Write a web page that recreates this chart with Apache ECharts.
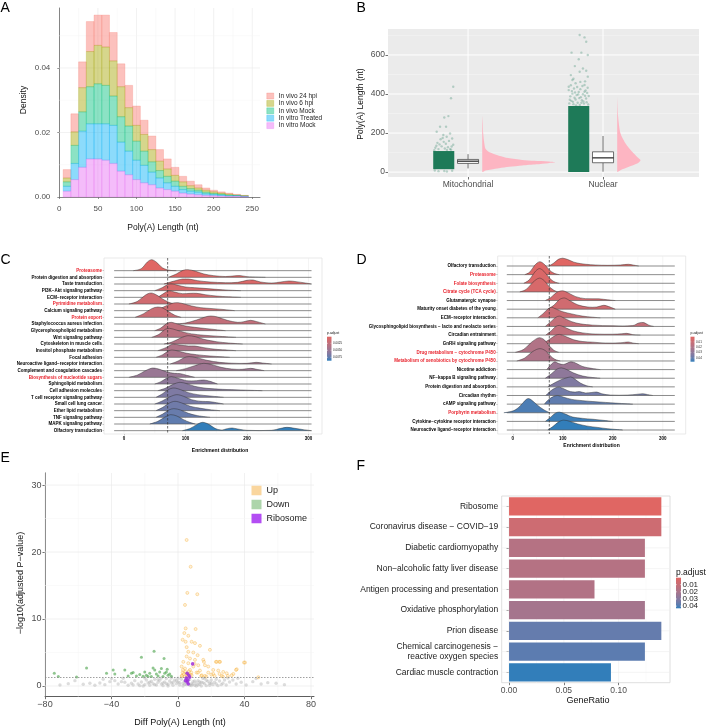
<!DOCTYPE html>
<html><head><meta charset="utf-8">
<script src="https://cdn.jsdelivr.net/npm/echarts@6/dist/echarts.min.js"></script>
<style>html,body{margin:0;padding:0;background:#fff}#c{width:709px;height:728px}</style>
</head><body><div id="c"></div><script>
// ---------------- DATA ----------------
// Panel A : stacked histogram (bin left edges, width 10)
const aBinLeft = [5,15,25,35,45,55,65,75,85,95,105,115,125,135,145,155,165,175,185,195,205,215,225,235];
const aBinWidth = 10;
const aNames = ['In vivo 24 hpi','In vivo 6 hpi','In vivo Mock','In vitro Treated','In vitro Mock'];
const aInVitroMock    = [0.0018,0.0054,0.0092,0.0118,0.0118,0.0114,0.0104,0.0080,0.0069,0.0054,0.0044,0.0038,0.0028,0.0023,0.0018,0.0012,0.0009,0.0007,0.0005,0.0004,0.0003,0.0002,0.0002,0.0001];
const aInVitroTreated = [0.0015,0.0050,0.0112,0.0109,0.0109,0.0113,0.0118,0.0090,0.0073,0.0060,0.0054,0.0039,0.0031,0.0021,0.0015,0.0011,0.0009,0.0008,0.0005,0.0004,0.0003,0.0002,0.0002,0.0001];
const aInVivoMock     = [0.0014,0.0056,0.0060,0.0115,0.0124,0.0119,0.0091,0.0079,0.0078,0.0059,0.0044,0.0032,0.0023,0.0020,0.0016,0.0010,0.0008,0.0006,0.0005,0.0003,0.0003,0.0002,0.0001,0.0001];
const aInVivo6        = [0.0012,0.0042,0.0075,0.0109,0.0119,0.0119,0.0109,0.0093,0.0057,0.0049,0.0052,0.0038,0.0029,0.0023,0.0018,0.0014,0.0009,0.0007,0.0006,0.0005,0.0003,0.0003,0.0001,0.0001];
const aInVivo24       = [0.0026,0.0056,0.0080,0.0093,0.0094,0.0099,0.0088,0.0071,0.0069,0.0060,0.0044,0.0042,0.0036,0.0031,0.0025,0.0017,0.0014,0.0010,0.0007,0.0005,0.0004,0.0003,0.0002,0.0001];
const aXTicks = [0,50,100,150,200,250];
const aYTicks = [0,0.02,0.04];

// Panel B : raincloud
const bCategories = ['Mitochondrial','Nuclear'];
const bYTicks = [0,200,400,600];
const bMitoCore = [15,108];
const bNucCore = [0,338];
const bMitoBox = [19,44.6,56,65,92];      // min q1 median q3 max
const bNucBox = [2,48,73,104,185];
const bMitoViolin = [[0,0],[5,0.015],[8,0.024],[14,0.067],[20,0.124],[27,0.2],[34,0.296],[40,0.4],[46,0.489],[50,0.541],[54,0.489],[58,0.385],[62,0.296],[72,0.193],[84,0.124],[100,0.059],[120,0.024],[150,0.015],[200,0.007],[250,0.004],[290,0]];
const bNucViolin = [[0,0],[10,0.024],[27,0.087],[44,0.148],[61,0.173],[78,0.148],[104,0.111],[147,0.062],[199,0.024],[283,0.007],[386,0]];
const bMitoPts = [[0.9,437],[0.69,378],[0.44,287],[0.05,280],[0.22,232],[-0.35,232],[-0.67,207],[-0.04,190],[0.28,181],[0.6,198],[-0.8,125],[-0.5,118],[-0.2,132],[0.1,121],[0.4,128],[0.7,115],[0.9,140],[-0.9,112],[-0.6,150],[0.2,145],[0.5,160],[-0.3,168],[0.8,172],[-0.7,135],[0.0,155],[0.6,118],[-0.4,142],[0.3,113],[-0.1,175],[0.75,131],[-0.5,5],[0.3,3],[0.8,7],[-0.85,8],[0.05,6]];
const bNucPts = [[0.09,702],[0.55,690],[0.71,668],[-0.68,612],[0.25,612],[0.86,600],[0.0,578],[-0.37,543],[0.4,531],[-0.75,497],[0.09,514],[0.71,519],[-0.6,472],[0.86,489],[-0.95,437],[-0.3,455],[0.55,446],
 [-0.9,352],[-0.7,365],[-0.5,348],[-0.3,372],[-0.1,355],[0.1,344],[0.3,368],[0.5,351],[0.7,377],[0.9,346],[-0.8,388],[-0.6,402],[-0.4,381],[-0.2,395],[0.0,410],[0.2,384],[0.4,399],[0.6,391],[0.8,405],[-0.95,420],[-0.45,428],[0.15,425],[0.65,418],[0.35,441],[-0.15,436],[-0.75,445],[0.85,432],[-0.55,360],[0.45,362],[-0.25,342],[0.05,379],[0.95,390],[-0.85,371],[0.25,355],[-0.05,398],[0.55,412],[-0.65,415],[0.75,358],[-0.35,408],[0.15,462],[-0.5,478],[0.6,465]];

// Panel C : ridgeline
const cTerms = ['Proteasome','Protein digestion and absorption','Taste transduction','PI3K−Akt signaling pathway','ECM−receptor interaction','Pyrimidine metabolism','Calcium signaling pathway','Protein export','Staphylococcus aureus infection','Glycerophospholipid metabolism','Wnt signaling pathway','Cytoskeleton in muscle cells','Inositol phosphate metabolism','Focal adhesion','Neuroactive ligand−receptor interaction','Complement and coagulation cascades','Biosynthesis of nucleotide sugars','Sphingolipid metabolism','Cell adhesion molecules','T cell receptor signaling pathway','Small cell lung cancer','Ether lipid metabolism','TNF signaling pathway','MAPK signaling pathway','Olfactory transduction'];
const cHighlight = [1,0,0,0,0,1,0,1,0,0,0,0,0,0,0,0,1,0,0,0,0,0,0,0,0];
const cPadj = [0.00014,0.0004,0.0006,0.0009,0.0011,0.0014,0.0016,0.0019,0.0024,0.0027,0.003,0.0034,0.0037,0.004,0.0044,0.0047,0.005,0.0056,0.006,0.0064,0.0067,0.007,0.0073,0.0076,0.0087];
const cRidges = [
 [[15,0],[28,0.3],[38,1.3],[45,1.65],[53,1.25],[63,0.4],[75,0.05],[85,0]],
 [[72,0],[85,0.5],[96,1.05],[104,1.15],[115,0.95],[130,0.5],[146,0.25],[165,0.12],[180,0.22],[190,0.25],[200,0.1],[230,0]],
 [[65,0],[80,0.4],[95,0.75],[105,0.75],[120,0.5],[140,0.3],[165,0.2],[185,0.25],[200,0.55],[210,0.6],[222,0.3],[240,0.15],[255,0.3],[268,0.45],[280,0.35],[295,0.15],[305,0]],
 [[50,0],[62,0.45],[72,0.95],[78,1.0],[88,0.8],[100,0.55],[115,0.45],[130,0.35],[150,0.2],[170,0.08],[190,0]],
 [[55,0],[65,0.6],[73,1.0],[82,0.8],[95,0.55],[108,0.6],[118,0.6],[132,0.4],[150,0.2],[170,0.08],[190,0]],
 [[8,0],[22,0.4],[35,1.35],[44,1.65],[53,1.35],[62,0.8],[72,0.3],[82,0]],
 [[40,0],[55,0.2],[68,0.7],[80,1.15],[88,1.2],[98,1.0],[110,0.7],[125,0.45],[145,0.3],[165,0.15],[180,0]],
 [[18,0],[32,0.55],[45,1.3],[55,1.55],[63,1.4],[72,0.9],[82,0.35],[93,0]],
 [[85,0],[100,0.15],[118,0.6],[132,1.05],[141,1.2],[152,1.05],[168,0.55],[185,0.25],[195,0.35],[206,0.55],[216,0.35],[230,0]],
 [[50,0],[60,0.4],[70,1.1],[77,1.25],[87,1.0],[100,0.7],[115,0.5],[135,0.3],[150,0.15],[165,0]],
 [[45,0],[57,0.45],[67,1.2],[74,1.35],[85,1.1],[100,0.7],[120,0.4],[140,0.25],[160,0.12],[182,0]],
 [[65,0],[78,0.3],[92,0.9],[104,1.25],[116,1.1],[130,0.7],[150,0.35],[170,0.15],[193,0]],
 [[55,0],[68,0.45],[80,1.0],[90,0.85],[105,0.7],[115,0.7],[130,0.45],[150,0.2],[170,0.08],[182,0]],
 [[52,0],[63,0.4],[72,0.95],[78,1.1],[88,0.95],[100,0.65],[118,0.4],[140,0.2],[160,0.08],[172,0]],
 [[75,0],[88,0.45],[98,0.95],[106,1.1],[118,0.95],[135,0.55],[155,0.25],[175,0.12],[200,0.1],[215,0.25],[225,0.15],[240,0]],
 [[85,0],[100,0.3],[115,0.75],[130,1.1],[143,0.9],[158,0.5],[175,0.25],[192,0.2],[206,0.35],[216,0.2],[228,0]],
 [[8,0],[22,0.35],[35,1.0],[47,1.4],[58,1.2],[70,0.8],[82,0.6],[92,0.55],[102,0.3],[115,0]],
 [[50,0],[60,0.35],[70,0.9],[77,1.1],[88,0.85],[102,0.5],[118,0.5],[130,0.6],[140,0.4],[152,0]],
 [[55,0],[68,0.4],[80,0.95],[91,1.25],[102,1.05],[115,0.65],[135,0.35],[160,0.2],[190,0.1],[225,0]],
 [[52,0],[62,0.5],[72,1.15],[81,1.4],[92,1.15],[105,0.7],[120,0.4],[140,0.2],[162,0]],
 [[50,0],[62,0.45],[74,1.05],[86,1.4],[97,1.15],[110,0.65],[125,0.4],[140,0.35],[162,0]],
 [[52,0],[63,0.5],[74,1.15],[83,1.4],[94,1.15],[108,0.65],[125,0.35],[140,0.15],[156,0]],
 [[52,0],[63,0.5],[73,1.1],[81,1.3],[92,1.1],[105,0.6],[120,0.25],[140,0]],
 [[42,0],[55,0.4],[66,1.0],[76,1.4],[86,1.2],[97,0.65],[107,0.25],[116,0]],
 [[95,0],[108,0.35],[118,0.9],[128,1.25],[138,0.95],[148,0.35],[158,0.1],[168,0.3],[176,0.4],[185,0.25],[200,0.05],[240,0.05],[255,0.35],[265,0.5],[278,0.35],[292,0.15],[305,0]]
];
const cBaseRange = [-16,305];
const cCutoff = 71;
const cXTicks = [0,100,200,300];
const cLegendTicks = [0.0025,0.0050,0.0075];

// Panel D : ridgeline
const dTerms = ['Olfactory transduction','Proteasome','Folate biosynthesis','Citrate cycle (TCA cycle)','Glutamatergic synapse','Maturity onset diabetes of the young','ECM−receptor interaction','Glycosphingolipid biosynthesis − lacto and neolacto series','Circadian entrainment','GnRH signaling pathway','Drug metabolism − cytochrome P450','Metabolism of xenobiotics by cytochrome P450','Nicotine addiction','NF−kappa B signaling pathway','Protein digestion and absorption','Circadian rhythm','cAMP signaling pathway','Porphyrin metabolism','Cytokine−cytokine receptor interaction','Neuroactive ligand−receptor interaction'];
const dHighlight = [0,1,1,1,0,0,0,0,0,0,1,1,0,0,0,0,0,1,0,0];
const dPadj = [0.0003,0.002,0.003,0.004,0.006,0.007,0.010,0.012,0.013,0.015,0.019,0.020,0.026,0.030,0.034,0.037,0.041,0.044,0.046,0.047];
const dRidges = [
 [[72,0],[82,0.35],[92,0.8],[100,0.9],[110,0.75],[122,0.45],[135,0.28],[146,0.2],[165,0.12],[190,0.08],[215,0.12],[231,0.2],[242,0.1],[252,0]],
 [[24,0],[34,0.3],[44,1.1],[54,1.5],[63,1.2],[73,0.55],[83,0.15],[93,0]],
 [[22,0],[33,0.4],[44,1.3],[53,1.7],[62,1.4],[72,0.7],[82,0.2],[93,0]],
 [[14,0],[27,0.3],[40,1.1],[53,1.6],[63,1.3],[72,0.65],[82,0.2],[90,0]],
 [[65,0],[76,0.35],[88,0.95],[100,1.12],[112,0.85],[126,0.45],[145,0.22],[172,0.2],[190,0.08],[205,0]],
 [[70,0],[82,0.45],[93,1.1],[103,1.3],[115,0.95],[130,0.5],[150,0.25],[168,0.25],[182,0.45],[192,0.3],[205,0]],
 [[50,0],[60,0.45],[70,1.0],[77,1.22],[87,1.0],[100,0.7],[118,0.45],[139,0.2],[160,0.07],[175,0]],
 [[65,0],[76,0.55],[86,1.05],[93,1.2],[103,0.95],[118,0.55],[135,0.3],[160,0.15],[200,0.08],[240,0.1],[252,0.4],[262,0.45],[272,0.15],[282,0]],
 [[66,0],[77,0.5],[86,1.0],[93,1.12],[104,0.9],[120,0.5],[140,0.25],[165,0.12],[200,0.1],[218,0.15],[228,0.2],[240,0.05],[255,0]],
 [[60,0],[72,0.45],[85,0.95],[93,1.08],[105,0.85],[122,0.45],[140,0.25],[160,0.18],[185,0.08],[215,0.1],[231,0.2],[240,0.08],[252,0]],
 [[5,0],[22,0.35],[38,1.2],[53,1.7],[63,1.45],[73,0.75],[82,0.25],[92,0]],
 [[8,0],[24,0.35],[40,1.1],[54,1.43],[65,1.2],[75,0.6],[84,0.2],[95,0]],
 [[68,0],[76,0.55],[84,0.9],[92,0.7],[102,0.6],[116,0.9],[126,0.75],[140,0.35],[160,0.12],[175,0]],
 [[65,0],[76,0.45],[88,1.05],[97,1.2],[108,1.0],[122,0.6],[140,0.25],[160,0.08],[175,0]],
 [[70,0],[80,0.35],[95,0.8],[108,1.05],[116,1.15],[124,0.9],[135,0.45],[148,0.12],[160,0]],
 [[66,0],[76,0.55],[86,0.9],[93,0.97],[103,0.75],[115,0.45],[125,0.4],[133,0.45],[145,0.3],[158,0.35],[168,0.4],[178,0.2],[195,0.05],[230,0.05],[250,0.15],[260,0.2],[270,0.1],[280,0]],
 [[63,0],[72,0.55],[82,0.9],[90,1.0],[102,0.8],[118,0.55],[140,0.4],[160,0.3],[185,0.2],[205,0.12],[230,0.03],[240,0]],
 [[-18,0],[2,0.25],[15,0.8],[25,1.45],[31,1.65],[38,1.45],[50,0.85],[62,0.35],[74,0]],
 [[65,0],[75,0.45],[85,0.95],[93,1.08],[105,0.85],[120,0.5],[140,0.35],[160,0.25],[185,0.1],[200,0]],
 [[70,0],[80,0.4],[92,0.95],[102,1.15],[114,1.0],[130,0.7],[150,0.45],[170,0.3],[190,0.15],[210,0.05],[220,0]]
];
const dBaseRange = [-12,324];
const dCutoff = 73;
const dXTicks = [0,100,200,300];
const dLegendTicks = [0.01,0.02,0.03,0.04];

// Panel E : volcano
const eXTicks = [-80,-40,0,40,80];
const eYTicks = [0,10,20,30];
const eThreshold = 1.3;
const eNs = [[-24,0.3],[-22,0.6],[-20,0.2],[-19,0.9],[-18,0.45],[-17,0.1],[-16,0.7],[-15,0.35],[-14,1.0],[-13,0.15],[-12,0.55],[-11,0.85],[-10,0.3],[-9,0.05],[-8,0.6],[-7,1.1],[-6,0.25],[-5,0.75],[-4,0.45],[-3,0.1],[-2,0.9],[-1,0.35],[0,0.6],[1,0.15],[2,1.0],[3,0.4],[4,0.7],[5,0.2],[6,0.5],[7,0.95],[8,0.3],[9,0.65],[10,0.1],[11,0.45],[12,0.8],[13,0.25],[14,0.55],[15,1.1],[16,0.35],[17,0.05],[18,0.7],[19,0.4],[20,0.9],[21,0.2],[22,0.55],[23,0.3],[25,0.75],[27,0.4],[29,0.15],[31,0.6],
 [-26,0.8],[-28,0.4],[-30,0.1],[-32,0.55],[-34,0.65],[-36,0.3],[-38,0.8],[-41,0.65],[-44,0.2],[-47,0.45],[-50,0.1],[-53,0.4],[-57,0.25],[-62,0.8],[-66,0.35],[-71,0.15],
 [33,0.9],[35,0.3],[38,0.55],[41,0.15],[45,0.65],[47,1.1],[50,0.3],[54,0.5],[59,0.4],[64,0.2],
 [-21,0.0],[-14,0.2],[-9,0.45],[-6,0.0],[-3,0.55],[-1,0.8],[1,0.5],[3,0.0],[4,0.25],[6,0.85],[8,0.05],[9,0.3],[11,0.0],[12,0.15],[13,0.6],[15,0.5],[17,0.85],[19,0.1],[24,0.05],[-12,0.95],[-17,0.55],[-23,0.05],[-7,0.35],[0,1.15],[7,0.15],[10,0.75],[14,0.0],[20,0.45],[26,0.2],[-27,0.15],[-4,1.2],[5,1.2],[16,1.2],[-10,1.2],[-20,1.2],[23,1.0],[28,0.9],[30,1.2],[36,1.15],[-33,1.15],[-40,1.1],[-45,1.0]];
const eDown = [[-74.4,1.9],[-72,1.4],[-61,1.35],[-55,2.7],[-43,1.9],[-39,2.4],[-38,1.8],[-32,2.4],[-28,1.9],[-27,2.0],[-25,1.5],[-23,1.7],[-22,4.3],[-21,1.45],[-20,2.1],[-19,1.6],[-18,1.4],[-17,1.9],[-16,1.4],[-15,2.7],[-14.4,5.2],[-14,2.4],[-13,1.8],[-12,1.5],[-11,2.1],[-10,2.6],[-9,1.4],[-8.4,4.1],[-8,1.9],[-7,2.1],[-6.5,2.5],[-6,1.6],[-5,1.8],[-4,1.45],[-30,1.5]];
const eUp = [[5.2,21.8],[7.6,17.8],[5.6,13.9],[11.6,13.7],[4.2,12.1],[4.6,8.6],[10.6,8.5],[3.8,7.9],[6.2,7.5],[2.8,6.9],[4.6,6.6],[8.2,6.6],[10.2,6.4],[13.2,6.0],[19.2,5.4],[5.2,5.8],[6.2,5.1],[9.2,5.0],[11.8,4.6],[5.2,4.4],[7.2,4.1],[15.2,3.9],[15.6,3.6],[22.8,3.6],[24.8,3.6],[40.3,3.5],[35.3,2.5],[33.3,1.8],[48.3,1.3],
 [3.2,3.6],[6.2,3.4],[2.2,2.9],[4.2,2.6],[10.2,3.9],[16.2,3.1],[18.2,2.9],[21.2,2.4],[24.2,2.3],[27.2,2.1],[29.3,1.9],[32.3,1.6],[23.3,3.6],[25.3,3.6],[39.7,3.5],[34.9,2.4],[21.2,1.8],[18.2,2.0],[13.2,2.3],[11.2,2.0],[8.2,1.6],[5.2,1.8],[2.8,2.0],[2.2,1.5],[7.2,2.4],[9.2,2.9],[12.2,3.1],[14.3,1.6],[16.2,1.5],[26.3,1.5],
 [10,3.3],[12,2.0],[14,1.5],[17,1.4],[20,1.7],[22,1.5],[27,1.4],[30,1.5],[25,1.8],[2.5,1.5],[3.5,1.8],[4.5,2.1],[5.5,1.5],[6.5,2.2],[7.5,1.7],[3,2.4],[8,2.0],[4,1.4],[6,1.7]];
const eRibosome = [[8.8,3.3],[5.5,1.9],[6.5,1.6],[5,1.2],[6,0.9],[5.5,0.6],[7,1.3],[4.5,0.8],[6.2,0.3]];

// Panel F : bar chart
const fTerms = ['Ribosome','Coronavirus disease − COVID−19','Diabetic cardiomyopathy','Non−alcoholic fatty liver disease','Antigen processing and presentation','Oxidative phosphorylation','Prion disease','Chemical carcinogenesis −\nreactive oxygen species','Cardiac muscle contraction'];
const fGeneRatio = [0.139,0.139,0.124,0.124,0.078,0.124,0.139,0.124,0.093];
const fPadj = [0.0003,0.0077,0.016,0.016,0.017,0.021,0.0366,0.038,0.043];
const fXTicks = [0,0.05,0.10];
const fLegendTicks = [0.01,0.02,0.03,0.04];

// ---------------- HELPERS ----------------
const FONT = "'Liberation Sans', Arial, Helvetica, sans-serif";
const LOW = '#e06663', HIGH = '#327eba';
function hex(h){return [parseInt(h.slice(1,3),16),parseInt(h.slice(3,5),16),parseInt(h.slice(5,7),16)];}
function s2l(c){c/=255;return c<=0.04045?c/12.92:Math.pow((c+0.055)/1.055,2.4);}
function l2s(c){const v=c<=0.0031308?12.92*c:1.055*Math.pow(c,1/2.4)-0.055;return Math.max(0,Math.min(255,Math.round(v*255)));}
function rgb2lab(c){const r=s2l(c[0]),g=s2l(c[1]),b=s2l(c[2]);
 const X=(0.4124*r+0.3576*g+0.1805*b)/0.95047,Y=0.2126*r+0.7152*g+0.0722*b,Z=(0.0193*r+0.1192*g+0.9505*b)/1.08883;
 const f=t=>t>0.008856?Math.cbrt(t):7.787*t+16/116;const fx=f(X),fy=f(Y),fz=f(Z);return [116*fy-16,500*(fx-fy),200*(fy-fz)];}
function lab2rgb(l){const fy=(l[0]+16)/116,fx=fy+l[1]/500,fz=fy-l[2]/200;
 const fi=t=>{const t3=t*t*t;return t3>0.008856?t3:(t-16/116)/7.787;};
 const X=fi(fx)*0.95047,Y=fi(fy),Z=fi(fz)*1.08883;
 return [l2s(3.2406*X-1.5372*Y-0.4986*Z),l2s(-0.9689*X+1.8758*Y+0.0415*Z),l2s(0.0557*X-0.2040*Y+1.0570*Z)];}
const LAB0=rgb2lab(hex(LOW)), LAB1=rgb2lab(hex(HIGH));
function grad(t){t=Math.max(0,Math.min(1,t));const l=[0,1,2].map(i=>LAB0[i]+(LAB1[i]-LAB0[i])*t);const c=lab2rgb(l);return 'rgb('+c.join(',')+')';}
function padjColor(v,arr){const mn=Math.min.apply(null,arr),mx=Math.max.apply(null,arr);return grad((v-mn)/(mx-mn));}
function bbox(pts){let x0=Infinity,y0=Infinity,x1=-Infinity,y1=-Infinity;pts.forEach(p=>{x0=Math.min(x0,p[0]);y0=Math.min(y0,p[1]);x1=Math.max(x1,p[0]);y1=Math.max(y1,p[1]);});return [[x0,y0],[x1,y1]];}

function glines(idx, vals, dir, ref, color, w, z){
 return {type:'custom', xAxisIndex:idx, yAxisIndex:idx, silent:true, z:z||1, clip:false,
  data: vals.map(v=>dir==='v'?[v,ref]:[ref,v]),
  renderItem:function(params, api){const cs=params.coordSys;const p=api.coord([api.value(0),api.value(1)]);
   return dir==='v'?{type:'line',shape:{x1:p[0],y1:cs.y,x2:p[0],y2:cs.y+cs.height},style:{stroke:color,lineWidth:w}}
                   :{type:'line',shape:{x1:cs.x,y1:p[1],x2:cs.x+cs.width,y2:p[1]},style:{stroke:color,lineWidth:w}};}};
}

function ridgeSeries(idx, ridges, padj, baseRange){
 const n=ridges.length;
 return {type:'custom', xAxisIndex:idx, yAxisIndex:idx, silent:true, z:3, clip:true,
  data: ridges.map((r,i)=>[i, n-1-i]),
  renderItem:function(params, api){
   const i=params.dataIndex, base=n-1-i, knots=ridges[i];
   const pts=knots.map(k=>api.coord([k[0], base+k[1]]));
   const bb=bbox(pts);
   const b0=api.coord([baseRange[0],base]), b1=api.coord([baseRange[1],base]);
   return {type:'group', children:[
    {type:'polygon', shape:{points:pts, smooth:0.35, smoothConstraint:bb}, style:{fill:padjColor(padj[i],padj), stroke:null}},
    {type:'polyline', shape:{points:pts, smooth:0.35, smoothConstraint:bb}, style:{stroke:'#2a2a2a', lineWidth:0.45, fill:null}},
    {type:'line', shape:{x1:b0[0],y1:b0[1],x2:b1[0],y2:b1[1]}, style:{stroke:'#5a5a5a', lineWidth:0.7}}
   ]};
  }};
}

// A stacked table
const aSeriesVals = [aInVivo24, aInVivo6, aInVivoMock, aInVitroTreated, aInVitroMock];
const aBase = ['#F8766D','#A3A500','#00BF7D','#00B0F6','#E76BF3'];
function rgba(h,a){const c=hex(h);return 'rgba('+c.join(',')+','+a+')';}
const aStackOrder = [4,3,2,1,0]; // bottom to top
const aRects = aSeriesVals.map(()=>[]);
aBinLeft.forEach((x0,b)=>{let cum=0;aStackOrder.forEach(s=>{const v=aSeriesVals[s][b];aRects[s].push([x0,x0+aBinWidth,cum,cum+v]);cum+=v;});});

// ---------------- OPTION ----------------
const grids = [
 {left:59.3, top:8, width:200.7, height:189},
 {left:388, top:29, width:311, height:148, show:true, backgroundColor:'#EBEBEB', borderWidth:0},
 {left:104, top:258, width:218, height:176, show:true, backgroundColor:'transparent', borderColor:'#E3E3E3', borderWidth:0.8},
 {left:497.7, top:256, width:188, height:178, show:true, backgroundColor:'transparent', borderColor:'#E3E3E3', borderWidth:0.8},
 {left:45, top:473, width:269, height:223.7},
 {left:501.7, top:496, width:168.3, height:186.7, show:true, backgroundColor:'transparent', borderColor:'#D6D6D6', borderWidth:0.8}
].map(g=>Object.assign({containLabel:false, outerBoundsMode:'none'}, g));

const axBase = {splitLine:{show:false}, axisLine:{show:false}, axisTick:{show:false}};
function valAxis(gi, min, max, ticks, fmt, lab, line, tick){
 return Object.assign({}, axBase, {type:'value', gridIndex:gi, min:min, max:max,
  axisLabel:Object.assign({customValues:ticks, formatter:fmt, color:'#4D4D4D', fontSize:8, fontFamily:FONT, margin:4}, lab||{}),
  axisTick: Object.assign({show:true, customValues:ticks, length:2.5, lineStyle:{color:'#444', width:0.7}}, tick||{}),
  axisLine: Object.assign({show:false, onZero:false, lineStyle:{color:'#444', width:0.8}}, line||{})});
}
const fmtRaw = v=>String(v);
const fmtMinus = v=>(v<0?'−'+Math.abs(v):String(v));

const xAxes = [
 valAxis(0,0,260,aXTicks,fmtRaw,{margin:8},{show:true,onZero:false,lineStyle:{color:'#666',width:0.8}},{lineStyle:{color:'#666',width:0.7},length:2}),
 valAxis(1,0.407,2.711,[1,2],v=>bCategories[Math.round(v)-1],{margin:3,fontSize:8.5},null,{lineStyle:{color:'#333',width:0.7},length:2.5}),
 valAxis(2,-32.5,322,cXTicks,fmtRaw,{margin:2.5,fontSize:4.5,fontWeight:'bold',color:'#000'},null,{length:1.5,lineStyle:{color:'#999',width:0.5}}),
 valAxis(3,-30.2,345.8,dXTicks,fmtRaw,{margin:2,fontSize:4.5,fontWeight:'bold',color:'#000'},null,{length:1.5,lineStyle:{color:'#999',width:0.5}}),
 valAxis(4,-80,81.8,eXTicks,fmtMinus,{margin:3,fontSize:9},{show:true,onZero:false,lineStyle:{color:'#333',width:0.8}},{lineStyle:{color:'#333',width:0.7},length:2.5}),
 valAxis(5,-0.0067,0.1469,fXTicks,v=>v.toFixed(2),{margin:3,fontSize:8.5},null,{lineStyle:{color:'#444',width:0.7},length:2.5})
];
const labelRich = {r:{color:'#E8202A',fontSize:4.5,fontWeight:'bold',fontFamily:FONT}, k:{color:'#000',fontSize:4.5,fontWeight:'bold',fontFamily:FONT}};
const cRows = cTerms.map((t,i)=>i), dRows = dTerms.map((t,i)=>i);
const yAxes = [
 valAxis(0,0,0.0586,aYTicks,v=>v.toFixed(2),{margin:9},{show:true,onZero:false,lineStyle:{color:'#666',width:0.8}},{lineStyle:{color:'#666',width:0.7},length:2}),
 valAxis(1,-25,733,bYTicks,fmtRaw,{margin:3,fontSize:8.5},null,{lineStyle:{color:'#333',width:0.7},length:2.5}),
 valAxis(2,-0.5,25.9,cRows,v=>{const i=cTerms.length-1-Math.round(v);return '{'+(cHighlight[i]?'r':'k')+'|'+cTerms[i]+'}';},{margin:2,rich:labelRich},null,{length:1.5,lineStyle:{color:'#999',width:0.5}}),
 valAxis(3,-0.46,20.16,dRows,v=>{const i=dTerms.length-1-Math.round(v);return '{'+(dHighlight[i]?'r':'k')+'|'+dTerms[i]+'}';},{margin:2,rich:labelRich},null,{length:1.5,lineStyle:{color:'#999',width:0.5}}),
 valAxis(4,-1.6,31.8,eYTicks,fmtRaw,{margin:3.5,fontSize:9},{show:true,onZero:false,lineStyle:{color:'#333',width:0.8}},{lineStyle:{color:'#333',width:0.7},length:2.5}),
 Object.assign({}, axBase, {type:'category', gridIndex:5, data:fTerms, inverse:true,
   axisLabel:{color:'#222', fontSize:8.5, fontFamily:FONT, margin:3.5, lineHeight:10, align:'right'},
   axisTick:{show:true, alignWithLabel:true, length:2.5, lineStyle:{color:'#555',width:0.7}}})
];

const series = [];
// A gridlines + bars
series.push(glines(0,[25,75,125,175,225],'v',0.01,'#F4F4F4',0.5));
series.push(glines(0,[50,100,150,200,250],'v',0.01,'#EBEBEB',0.7));
series.push(glines(0,[0.01,0.03,0.05],'h',100,'#F4F4F4',0.5));
series.push(glines(0,[0.02,0.04],'h',100,'#EBEBEB',0.7));
aNames.forEach((nm,s)=>{
 series.push({type:'custom', name:nm, xAxisIndex:0, yAxisIndex:0, z:3, itemStyle:{color:rgba(aBase[s],0.5)},
  data:aRects[s],
  renderItem:function(params, api){const p0=api.coord([api.value(0),api.value(3)]), p1=api.coord([api.value(1),api.value(2)]);
   return {type:'rect', shape:{x:p0[0],y:p0[1],width:p1[0]-p0[0],height:p1[1]-p0[1]}, style:{fill:rgba(aBase[s],0.45), stroke:rgba(aBase[s],0.5), lineWidth:0.5}};}});
});
// B
series.push(glines(1,[100,300,500,700],'h',1,'#F7F7F7',0.5));
series.push(glines(1,bYTicks,'h',1,'#FFFFFF',1));
series.push(glines(1,[1,2],'v',0,'#FFFFFF',1));
const bJitterOffset=-0.18, bJitterHalf=0.078, bBoxHalf=0.078, bViolinStart=0.105;
series.push({type:'custom', xAxisIndex:1, yAxisIndex:1, z:3, silent:true,
 data:[[1,bMitoCore[0],bMitoCore[1]],[2,bNucCore[0],bNucCore[1]]],
 renderItem:function(params, api){const c=api.value(0);const a=api.coord([c+bJitterOffset-bJitterHalf,api.value(2)]);const b=api.coord([c+bJitterOffset+bJitterHalf,api.value(1)]);
  return {type:'rect', shape:{x:a[0],y:a[1],width:b[0]-a[0],height:b[1]-a[1]}, style:{fill:'#1E7A58'}};}});
series.push({type:'scatter', xAxisIndex:1, yAxisIndex:1, z:4, silent:true, symbolSize:2.4,
 itemStyle:{color:'rgba(30,122,88,0.35)'},
 data: bMitoPts.map(p=>[1+bJitterOffset+p[0]*bJitterHalf,p[1]]).concat(bNucPts.map(p=>[2+bJitterOffset+p[0]*bJitterHalf,p[1]]))});
series.push({type:'custom', xAxisIndex:1, yAxisIndex:1, z:4, silent:true, data:[[1,0],[2,0]],
 renderItem:function(params, api){const k=params.dataIndex;const prof=k===0?bMitoViolin:bNucViolin;const x0=k+1+bViolinStart;
  const pts=[api.coord([x0,prof[0][0]])];prof.forEach(p=>pts.push(api.coord([x0+p[1],p[0]])));pts.push(api.coord([x0,prof[prof.length-1][0]]));
  return {type:'polygon', shape:{points:pts, smooth:0.25, smoothConstraint:bbox(pts)}, style:{fill:'#FDB5C2'}};}});
series.push({type:'custom', xAxisIndex:1, yAxisIndex:1, z:5, silent:true,
 data:[[1].concat(bMitoBox),[2].concat(bNucBox)],
 renderItem:function(params, api){const c=api.value(0);const v=[1,2,3,4,5].map(i=>api.value(i));
  const L=api.coord([c-bBoxHalf,v[3]]), R=api.coord([c+bBoxHalf,v[1]]);const cx=api.coord([c,0])[0];
  const y=v.map(t=>api.coord([c,t])[1]);
  const st={stroke:'#333',lineWidth:0.7};
  return {type:'group',children:[
   {type:'line',shape:{x1:cx,y1:y[0],x2:cx,y2:y[1]},style:st},
   {type:'line',shape:{x1:cx,y1:y[3],x2:cx,y2:y[4]},style:st},
   {type:'rect',shape:{x:L[0],y:L[1],width:R[0]-L[0],height:R[1]-L[1]},style:{fill:'#fff',stroke:'#333',lineWidth:0.7}},
   {type:'line',shape:{x1:L[0],y1:y[2],x2:R[0],y2:y[2]},style:{stroke:'#222',lineWidth:1.2}}]};}});
// C
series.push(glines(2,[50,150,250],'v',0,'#F3F3F3',0.5));
series.push(glines(2,cXTicks,'v',0,'#EBEBEB',0.6));
series.push(ridgeSeries(2,cRidges,cPadj,cBaseRange));
series.push({type:'custom', xAxisIndex:2, yAxisIndex:2, z:6, silent:true, data:[[cCutoff,0]],
 renderItem:function(params, api){const cs=params.coordSys;const x=api.coord([api.value(0),0])[0];
  return {type:'line',shape:{x1:x,y1:cs.y,x2:x,y2:cs.y+cs.height},style:{stroke:'#333',lineWidth:0.7,lineDash:[2.5,1.5]}};}});
// D
series.push(glines(3,[50,150,250],'v',0,'#F3F3F3',0.5));
series.push(glines(3,dXTicks,'v',0,'#EBEBEB',0.6));
series.push(ridgeSeries(3,dRidges,dPadj,dBaseRange));
series.push({type:'custom', xAxisIndex:3, yAxisIndex:3, z:6, silent:true, data:[[dCutoff,0]],
 renderItem:function(params, api){const cs=params.coordSys;const x=api.coord([api.value(0),0])[0];
  return {type:'line',shape:{x1:x,y1:cs.y,x2:x,y2:cs.y+cs.height},style:{stroke:'#333',lineWidth:0.7,lineDash:[2.5,1.5]}};}});
// E
series.push(glines(4,[-60,-20,20,60],'v',0,'#F4F4F4',0.5));
series.push(glines(4,eXTicks,'v',0,'#EBEBEB',0.7));
series.push(glines(4,[5,15,25],'h',0,'#F4F4F4',0.5));
series.push(glines(4,eYTicks,'h',0,'#EBEBEB',0.7));
series.push({type:'scatter', name:'NS', xAxisIndex:4, yAxisIndex:4, z:3, silent:true, symbolSize:3.4,
 itemStyle:{color:'rgba(170,170,170,0.5)'}, data:eNs,
 markLine:{silent:true, symbol:'none', label:{show:false}, lineStyle:{type:[1.5,1.5], color:'#888', width:0.8}, data:[{yAxis:eThreshold}]}});
series.push({type:'scatter', name:'Down', xAxisIndex:4, yAxisIndex:4, z:4, silent:true, symbolSize:3,
 itemStyle:{color:'rgba(70,160,70,0.75)'}, data:eDown});
series.push({type:'scatter', name:'Up', xAxisIndex:4, yAxisIndex:4, z:4, silent:true, symbolSize:3,
 itemStyle:{color:'rgba(250,200,110,0.3)', borderColor:'rgba(246,180,72,0.9)', borderWidth:0.6}, data:eUp});
series.push({type:'scatter', name:'Ribosome', xAxisIndex:4, yAxisIndex:4, z:5, silent:true, symbolSize:3.6,
 itemStyle:{color:'#9A25DD'}, data:eRibosome});
// F
series.push(glines(5,[0.025,0.075,0.125],'v',0,'#F5F5F5',0.5));
series.push(glines(5,fXTicks,'v',0,'#EEEEEE',0.6));
series.push(glines(5,fTerms.map((t,i)=>i),'h',0,'#EEEEEE',0.6));
series.push({type:'bar', xAxisIndex:5, yAxisIndex:5, z:3, silent:true, barCategoryGap:'12%',
 data: fGeneRatio.map((v,i)=>({value:v, itemStyle:{color:padjColor(fPadj[i],fPadj)}}))});

// graphics
const graphics = [];
function T(x,y,text,o){graphics.push({type:'text', x:x, y:y, rotation:(o&&o.rot)||0, silent:true,
 style:Object.assign({text:text, fontFamily:FONT, fontSize:9, fill:'#111', align:'center', verticalAlign:'middle'}, (o&&o.s)||{})});}
T(0.5,8.5,'A',{s:{fontSize:14,align:'left',fill:'#000'}});
T(356.5,8.5,'B',{s:{fontSize:14,align:'left',fill:'#000'}});
T(0.5,260,'C',{s:{fontSize:14,align:'left',fill:'#000'}});
T(356.5,260,'D',{s:{fontSize:14,align:'left',fill:'#000'}});
T(0.5,458.5,'E',{s:{fontSize:14,align:'left',fill:'#000'}});
T(356.5,466,'F',{s:{fontSize:14,align:'left',fill:'#000'}});
T(24,100,'Density',{rot:Math.PI/2,s:{fontSize:8.5}});
T(163,228,'Poly(A) Length (nt)',{s:{fontSize:8.5}});
T(360.5,104,'Poly(A) Length (nt)',{rot:Math.PI/2,s:{fontSize:8.5}});
T(220,450.7,'Enrichment distribution',{s:{fontSize:5,fontWeight:'bold',fill:'#000'}});
T(591.5,446,'Enrichment distribution',{s:{fontSize:5,fontWeight:'bold',fill:'#000'}});
T(180,723,'Diff Poly(A) Length (nt)',{s:{fontSize:9}});
T(20.7,583,'−log10(adjusted P−value)',{rot:Math.PI/2,s:{fontSize:9}});
T(588,701,'GeneRatio',{s:{fontSize:9}});
function colorbar(x,y,w,h,arr,ticks,fmt,fs,titleY){
 const mn=Math.min.apply(null,arr),mx=Math.max.apply(null,arr);const stops=[];
 for(let i=0;i<=10;i++){stops.push({offset:i/10,color:grad(i/10)});}
 graphics.push({type:'rect',silent:true,shape:{x:x,y:y,width:w,height:h},style:{fill:new echarts.graphic.LinearGradient(0,0,0,1,stops)}});
 T(x,titleY,'p.adjust',{s:{fontSize:fs+0.5,align:'left',fill:'#111'}});
 ticks.forEach(v=>{const yy=y+(v-mn)/(mx-mn)*h;
  graphics.push({type:'line',silent:true,shape:{x1:x,y1:yy,x2:x+w*0.2,y2:yy},style:{stroke:'#fff',lineWidth:0.5}});
  graphics.push({type:'line',silent:true,shape:{x1:x+w*0.8,y1:yy,x2:x+w,y2:yy},style:{stroke:'#fff',lineWidth:0.5}});
  T(x+w+1.5,yy,fmt(v),{s:{fontSize:fs,align:'left',fill:'#222'}});});
}
colorbar(327,336.7,4.5,24,cPadj,cLegendTicks,v=>v.toFixed(4),3,333);
colorbar(690.5,336.7,4,25,dPadj,dLegendTicks,v=>v.toFixed(2),3,333);
colorbar(676,577.7,5,30.6,fPadj,fLegendTicks,v=>v.toFixed(2),8,572.5);

const option = {
 animation:false,
 backgroundColor:'#fff',
 textStyle:{fontFamily:FONT},
 grid:grids, xAxis:xAxes, yAxis:yAxes, series:series, graphic:graphics,
 legend:[
  {selectedMode:false, orient:'vertical', left:266.5, top:92.5, padding:0, itemWidth:7, itemHeight:6, itemGap:0.4,
   textStyle:{fontSize:6.5, color:'#222', fontFamily:FONT, lineHeight:6.5},
   data:aNames.map((n,i)=>({name:n, icon:'rect', itemStyle:{color:rgba(aBase[i],0.45), borderColor:rgba(aBase[i],0.5), borderWidth:0.5}}))},
  {selectedMode:false, orient:'vertical', left:251.5, top:485.5, padding:0, itemWidth:10, itemHeight:9.5, itemGap:4,
   textStyle:{fontSize:9, color:'#222', fontFamily:FONT, lineHeight:10},
   data:[{name:'Up',icon:'rect',itemStyle:{color:'#F9CC86',borderWidth:0}},{name:'Down',icon:'rect',itemStyle:{color:'#98CB96',borderWidth:0}},{name:'Ribosome',icon:'rect',itemStyle:{color:'#A020F0',borderWidth:0}}]}
 ]
};
const chart = echarts.init(document.getElementById('c'), null, {renderer:'canvas', width:709, height:728});
chart.setOption(option);
</script></body></html>
